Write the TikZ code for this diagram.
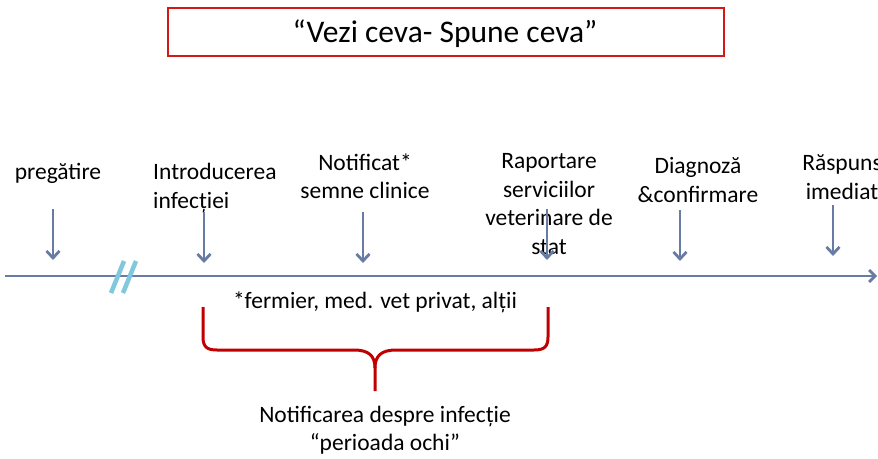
\documentclass[tikz,border=0pt]{standalone}
\usepackage{fontspec}
\setmainfont{Carlito}
\usepackage{xcolor}
\usepackage{tikz}
\usetikzlibrary{arrows.meta}

\definecolor{slate}{RGB}{104,124,163}
\definecolor{breakblue}{RGB}{128,200,220}
\definecolor{bracered}{RGB}{192,0,0}
\definecolor{boxred}{RGB}{212,24,24}

\tikzset{
  lbl/.style={align=center, font=\fontsize{23.5}{28.5}\selectfont, inner sep=0pt},
  down/.style={draw=slate, line width=2.8pt, -{Straight Barb[length=7pt,width=13pt]}},
}

\begin{document}
\begin{tikzpicture}[x=1pt, y=-1pt]
		\useasboundingbox (0,0) rectangle (878,458);
		\clip (0,0) rectangle (878,458);

		% titlu
		\draw[boxred, line width=1.1pt] (168,8) rectangle (724,56);
		\node[inner sep=0pt, font=\fontsize{31.5}{36}\selectfont] (title) at (445,34) {“Vezi ceva- Spune ceva”};

		% axa timpului
		\coordinate (t0) at (5,276);
		\coordinate (t1) at (877,276);
		\draw[slate, line width=2.8pt, -{Straight Barb[length=6pt,width=12pt]}] (t0) -- (t1);

		% intrerupere
		\draw[breakblue, line width=4.5pt] (111,293) -- (124,261);
		\draw[breakblue, line width=4.5pt] (123,293) -- (136,261);

		% etape
		\node[lbl] (pregatire) at (58,173) {pregătire};
		\node[lbl, align=left, anchor=west] (intro) at (153,188) {Introducerea\\infecției};
		\node[lbl] (notif) at (365,176) {Notificat*\\semne clinice};
		\node[lbl] (raport) at (549,204) {Raportare\\serviciilor\\veterinare de\\stat};
		\node[lbl] (diag) at (698,180) {Diagnoză\\\&confirmare};
		\node[lbl] (raspuns) at (842,177) {Răspuns\\imediat};

		\coordinate (p1) at (53,209);  \coordinate (q1) at (53,260);
		\coordinate (p2) at (204,212); \coordinate (q2) at (204,263);
		\coordinate (p3) at (363,212); \coordinate (q3) at (363,263);
		\coordinate (p4) at (547,209); \coordinate (q4) at (547,260);
		\coordinate (p5) at (680,210); \coordinate (q5) at (680,261);
		\coordinate (p6) at (833,205); \coordinate (q6) at (833,256);
		\draw[down] (p1) -- (q1);
		\draw[down] (p2) -- (q2);
		\draw[down] (p3) -- (q3);
		\draw[down] (p4) -- (q4);
		\draw[down] (p5) -- (q5);
		\draw[down] (p6) -- (q6);

		\node[lbl] (cine) at (375,302) {*fermier, med. vet privat, alții};

		% acolada
		\draw[bracered, line width=3pt, line join=round]
			(203,307) -- (203,337) .. controls (203,347) and (207,350) .. (217,350)
			-- (354,350) .. controls (369,350) and (375,356) .. (375,368) -- (375,391);
		\draw[bracered, line width=3pt, line join=round]
			(548,307) -- (548,337) .. controls (548,347) and (544,350) .. (534,350)
			-- (396,350) .. controls (381,350) and (375,356) .. (375,368);

		\node[lbl] (perioada) at (385,430) {Notificarea despre infecție\\“perioada ochi”};
	\end{tikzpicture}
\end{document}
